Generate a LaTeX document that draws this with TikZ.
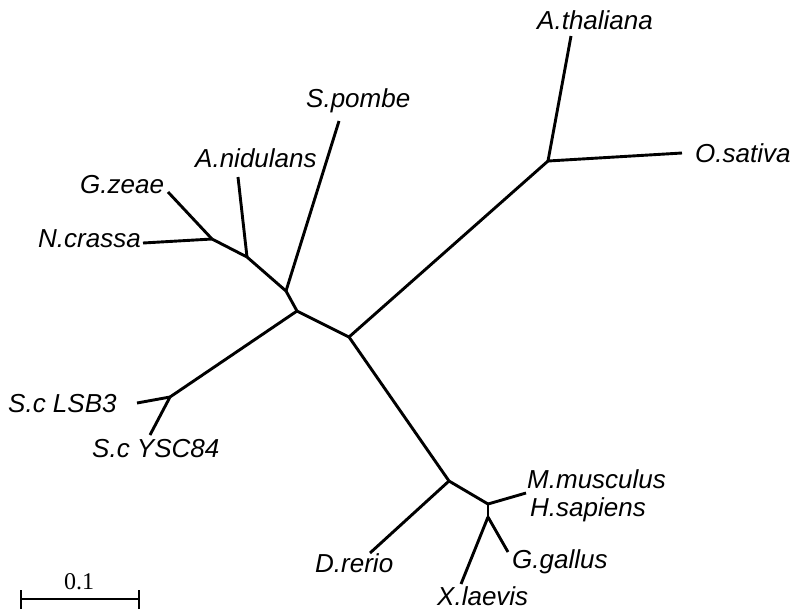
\documentclass[tikz,border=0pt]{standalone}
\usepackage{fontspec}
\setmainfont{Liberation Sans}
\newfontfamily\serifnum{Liberation Serif}
\begin{document}
\begin{tikzpicture}[x=1pt,y=-1pt,
  branch/.style={line width=2.9pt,line cap=butt,line join=round},
  taxon/.style={inner sep=0pt,anchor=base west,font=\fontsize{26}{28}\selectfont\itshape},
  scalebar/.style={line width=2pt}]
\useasboundingbox (0,0) rectangle (791,611);
% internal nodes
\coordinate (n1) at (349,337);
\coordinate (n2) at (297,311);
\coordinate (n3) at (286,291);
\coordinate (n4) at (247,257);
\coordinate (n5) at (212,239);
\coordinate (n6) at (548,161);
\coordinate (nsc) at (170,397);
\coordinate (n7) at (449,481);
\coordinate (n8) at (488,504);
\coordinate (n9) at (488,517);
% tips
\coordinate (tAth) at (571,36);
\coordinate (tOsa) at (682,153);
\coordinate (tSpo) at (339,121);
\coordinate (tAni) at (238,177);
\coordinate (tGze) at (168,192);
\coordinate (tNcr) at (143,243);
\coordinate (tLSB) at (137,403);
\coordinate (tYSC) at (150,435);
\coordinate (tDre) at (370,553);
\coordinate (tMmu) at (526,493);
\coordinate (tXla) at (461,584);
\coordinate (tGga) at (508,552);
% branches
\draw[branch] (n2) -- (n1);
\draw[branch] (n1) -- (n6);
\draw[branch] (n6) -- (tAth);
\draw[branch] (n6) -- (tOsa);
\draw[branch] (n1) -- (n7);
\draw[branch] (n7) -- (tDre);
\draw[branch] (n7) -- (n8);
\draw[branch] (n8) -- (tMmu);
\draw[branch] (n8) -- (n9);
\draw[branch] (n9) -- (tXla);
\draw[branch] (n9) -- (tGga);
\draw[branch] (n2) -- (nsc);
\draw[branch] (nsc) -- (tLSB);
\draw[branch] (nsc) -- (tYSC);
\draw[branch] (n2) -- (n3);
\draw[branch] (n3) -- (tSpo);
\draw[branch] (n3) -- (n4);
\draw[branch] (n4) -- (tAni);
\draw[branch] (n4) -- (n5);
\draw[branch] (n5) -- (tGze);
\draw[branch] (n5) -- (tNcr);
% labels
\node[taxon] (lAth) at (537,29) {A.thaliana};
\node[taxon] (lOsa) at (695,162) {O.sativa};
\node[taxon] (lSpo) at (306,107) {S.pombe};
\node[taxon] (lAni) at (195,167) {A.nidulans};
\node[taxon] (lGze) at (80,193) {G.zeae};
\node[taxon] (lNcr) at (38,247) {N.crassa};
\node[taxon] (lLSB) at (8,412) {S.c LSB3};
\node[taxon] (lYSC) at (92,457) {S.c YSC84};
\node[taxon] (lMmu) at (527,488) {M.musculus};
\node[taxon] (lHsa) at (530,516) {H.sapiens};
\node[taxon] (lGga) at (512,568) {G.gallus};
\node[taxon] (lXla) at (437,605) {X.laevis};
\node[taxon] (lDre) at (315,572) {D.rerio};
% scale bar
\coordinate (sL) at (21,599);
\coordinate (sR) at (139,599);
\draw[scalebar] (sL) -- (sR);
\draw[scalebar] ([yshift=-10pt]sL) -- ([yshift=9pt]sL);
\draw[scalebar] ([yshift=-10pt]sR) -- ([yshift=9pt]sR);
\node[inner sep=0pt,anchor=base,font=\fontsize{24}{26}\selectfont\serifnum] (sc) at (79,589) {0.1};
\end{tikzpicture}
\end{document}
